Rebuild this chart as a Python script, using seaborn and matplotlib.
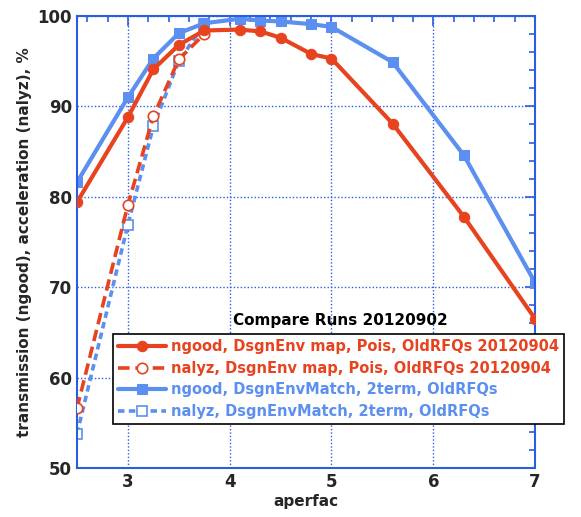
import numpy as np
import pandas as pd
import matplotlib
matplotlib.use("Agg")
import matplotlib.pyplot as plt
from matplotlib.ticker import MultipleLocator
import seaborn as sns

# ---- data ----
x_ngood = [2.5, 3.0, 3.25, 3.5, 3.75, 4.1, 4.3, 4.5, 4.8, 5.0, 5.6, 6.3, 7.0]
red_ngood = [79.4, 88.8, 94.1, 96.8, 98.4, 98.5, 98.3, 97.6, 95.8, 95.3, 88.1, 77.8, 66.5]
blue_ngood = [81.6, 91.0, 95.3, 98.1, 99.2, 99.7, 99.5, 99.4, 99.1, 98.8, 94.9, 84.6, 70.5]
x_nalyz = [2.5, 3.0, 3.25, 3.5, 3.75]
red_nalyz = [56.6, 79.1, 88.9, 95.2, 98.0]
blue_nalyz = [53.8, 76.9, 87.8, 95.0, 99.1]
labels = ["ngood, DsgnEnv map, Pois, OldRFQs 20120904",
          "nalyz, DsgnEnv map, Pois, OldRFQs 20120904",
          "ngood, DsgnEnvMatch, 2term, OldRFQs",
          "nalyz, DsgnEnvMatch, 2term, OldRFQs"]
title_text = "Compare Runs 20120902"
xlabel = "aperfac"
ylabel = "transmission (ngood), acceleration (nalyz), %"

RED = "#e8431f"
BLUE = "#5b8ff0"
AX = "#2a5ee0"

sns.set_style("white")
plt.rcParams['font.family'] = ['DejaVu Sans']

fig = plt.figure(figsize=(5.81, 5.17), dpi=100)
ax = fig.add_axes([0.1325, 0.0948, 0.921 - 0.1325, 0.969 - 0.0948])

sns.lineplot(x=x_ngood, y=red_ngood, ax=ax, color=RED, lw=3, marker="o",
             markersize=7.5, markeredgecolor=RED, label=labels[0], zorder=4)
sns.lineplot(x=x_nalyz, y=red_nalyz, ax=ax, color=RED, lw=2.6, marker="o",
             markersize=7.5, markerfacecolor="white", markeredgecolor=RED,
             markeredgewidth=1.2, dashes=(3.2, 1.6), label=labels[1], zorder=3)
sns.lineplot(x=x_ngood, y=blue_ngood, ax=ax, color=BLUE, lw=3, marker="s",
             markersize=7.5, markeredgecolor=BLUE, label=labels[2], zorder=2)
sns.lineplot(x=x_nalyz, y=blue_nalyz, ax=ax, color=BLUE, lw=2.6, marker="s",
             markersize=7, markerfacecolor="white", markeredgecolor=BLUE,
             markeredgewidth=1.2, dashes=(1.8, 1.2), label=labels[3], zorder=1)

ax.set_xlim(2.5, 7)
ax.set_ylim(50, 100)
ax.xaxis.set_major_locator(MultipleLocator(1))
ax.xaxis.set_minor_locator(MultipleLocator(0.2))
ax.yaxis.set_major_locator(MultipleLocator(10))
ax.yaxis.set_minor_locator(MultipleLocator(2))
ax.grid(True, which="major", color=AX, linestyle=(0, (1, 1.5)), linewidth=1.0)
ax.set_axisbelow(True)
for sp in ax.spines.values():
    sp.set_color(AX)
    sp.set_linewidth(1.5)
ax.tick_params(which="both", direction="in", top=True, right=True, color=AX,
               labelsize=12, width=1.2)
ax.tick_params(which="major", length=7)
ax.tick_params(which="minor", length=4)
for lab in ax.get_xticklabels() + ax.get_yticklabels():
    lab.set_fontweight("bold")

ax.set_xlabel(xlabel, fontsize=11, fontweight="bold", labelpad=2)
ax.set_ylabel(ylabel, fontsize=11, fontweight="bold", labelpad=4)

ax.text(0.574, 0.327, title_text, transform=ax.transAxes, ha="center",
        va="center", fontsize=11, fontweight="bold", color="black")

leg = ax.legend(loc="upper left", bbox_to_anchor=(0.079, 0.296), frameon=True,
                fancybox=False, edgecolor="black", framealpha=1,
                labelcolor="linecolor", prop={"weight": "bold", "size": 10.5},
                handlelength=3.3, handletextpad=0.3, borderpad=0.35,
                labelspacing=0.45, borderaxespad=0)
leg.get_frame().set_linewidth(1.2)
leg.set_zorder(10)

fig.savefig("out.png", dpi=100)
